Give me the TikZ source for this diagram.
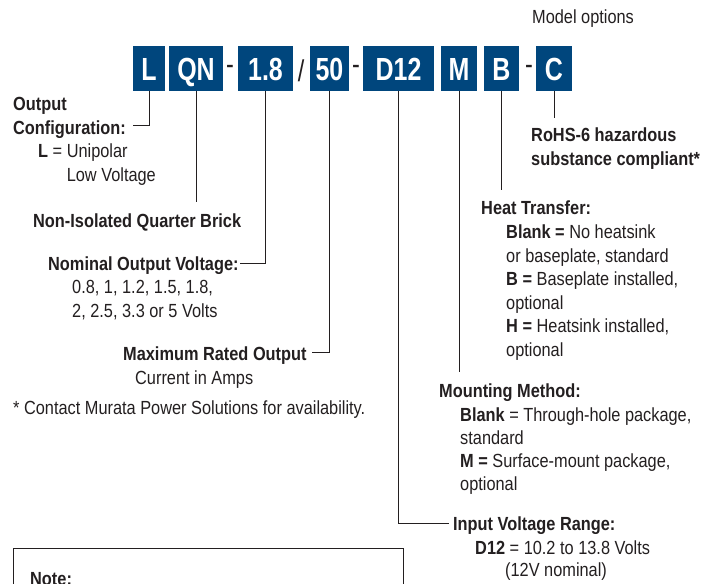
\documentclass[tikz,border=0pt]{standalone}
\usepackage{fontspec}
\setmainfont{Liberation Sans}[FakeStretch=0.86]
\newfontfamily\codefont{Liberation Sans}[FakeStretch=0.78]
\definecolor{murata}{RGB}{0,70,125}
\definecolor{ink}{RGB}{35,31,32}

\begin{document}
\begin{tikzpicture}[x=1pt,y=-1pt,
  code/.style={fill=murata,text=white,inner sep=0pt,minimum height=45pt,
    text height=23pt,text depth=0pt,font=\codefont\bfseries\fontsize{32}{32}\selectfont},
  sep/.style={text=ink,inner sep=0pt,font=\codefont\fontsize{30}{30}\selectfont},
  txt/.style={anchor=base west,inner sep=0pt,align=left,text=ink,font=\fontsize{19}{23.5}\selectfont},
  head/.style={txt,font=\bfseries\fontsize{19}{23.5}\selectfont},
  wire/.style={draw=ink,line width=0.9pt}]
\clip (0,0) rectangle (713,584);
% part number
\node[code,minimum width=32pt] (bL) at (149,68.5) {L};
\node[code,minimum width=54pt] (bQN) at (196,68.5) {QN};
\node[sep] (s1) at (230,70) {-};
\node[code,minimum width=55pt] (b18) at (265.5,68.5) {1.8};
\node[sep] (s2) at (301,71) {/};
\node[code,minimum width=39pt] (b50) at (329.5,68.5) {50};
\node[sep] (s3) at (356,70) {-};
\node[code,minimum width=71pt] (bD) at (398.5,68.5) {D12};
\node[code,minimum width=36pt] (bM) at (459,68.5) {M};
\node[code,minimum width=35pt] (bB) at (501.5,68.5) {B};
\node[sep] (s4) at (529,70) {-};
\node[code,minimum width=36pt] (bC) at (554,68.5) {C};
\node[txt] (mopt) at (532,23) {Model options};
% left side (multi-line nodes sit on their last baseline)
\node[head] (cfg) at (13,134) {Output\\Configuration:};
\node[txt] (cfgL) at (38,181) {\textbf{L} = Unipolar\\\phantom{\textbf{L} = }Low Voltage};
\node[head] (brick) at (33,227) {Non-Isolated Quarter Brick};
\node[head] (vout) at (48,270) {Nominal Output Voltage:};
\node[txt] (voutv) at (72,317) {0.8, 1, 1.2, 1.5, 1.8,\\2, 2.5, 3.3 or 5 Volts};
\node[head] (iout) at (123,360) {Maximum Rated Output};
\node[txt] (ioutv) at (135,384) {Current in Amps};
\node[txt] (foot) at (13,414) {* Contact Murata Power Solutions for availability.};
% right side
\node[head] (rohs) at (531,165) {RoHS-6 hazardous\\substance compliant*};
\node[head] (heat) at (481,214) {Heat Transfer:};
\node[txt] (heatv) at (506,356) {\textbf{Blank =} No heatsink\\or baseplate, standard\\\textbf{B =} Baseplate installed,\\optional\\\textbf{H =} Heatsink installed,\\optional};
\node[head] (mount) at (439,397) {Mounting Method:};
\node[txt,font=\fontsize{19}{22.8}\selectfont] (mountv) at (460,490) {\textbf{Blank} = Through-hole package,\\standard\\\textbf{M =} Surface-mount package,\\optional};
\node[head] (vin) at (453,530) {Input Voltage Range:};
\node[txt] (vinv) at (475,554) {\textbf{D12} = 10.2 to 13.8 Volts};
\node[txt] (vinn) at (505,576) {(12V nominal)};
% note
\draw[wire] (13,548) rectangle (403,620);
\node[head] (note) at (30,585) {Note:};
% leaders
\coordinate (eL) at (133,125);
\coordinate (eQN) at (196,202);
\coordinate (e18) at (240,263);
\coordinate (e50) at (312,352);
\coordinate (eD) at (449,523);
\coordinate (eM) at (459,372);
\coordinate (eB) at (501.5,190);
\coordinate (eC) at (554,118);
\draw[wire] (bL.south) |- (eL);
\draw[wire] (bQN.south) -- (eQN);
\draw[wire] (b18.south) |- (e18);
\draw[wire] (b50.south) |- (e50);
\draw[wire] (bD.south) |- (eD);
\draw[wire] (bM.south) -- (eM);
\draw[wire] (bB.south) -- (eB);
\draw[wire] (bC.south) -- (eC);
\end{tikzpicture}
\end{document}
